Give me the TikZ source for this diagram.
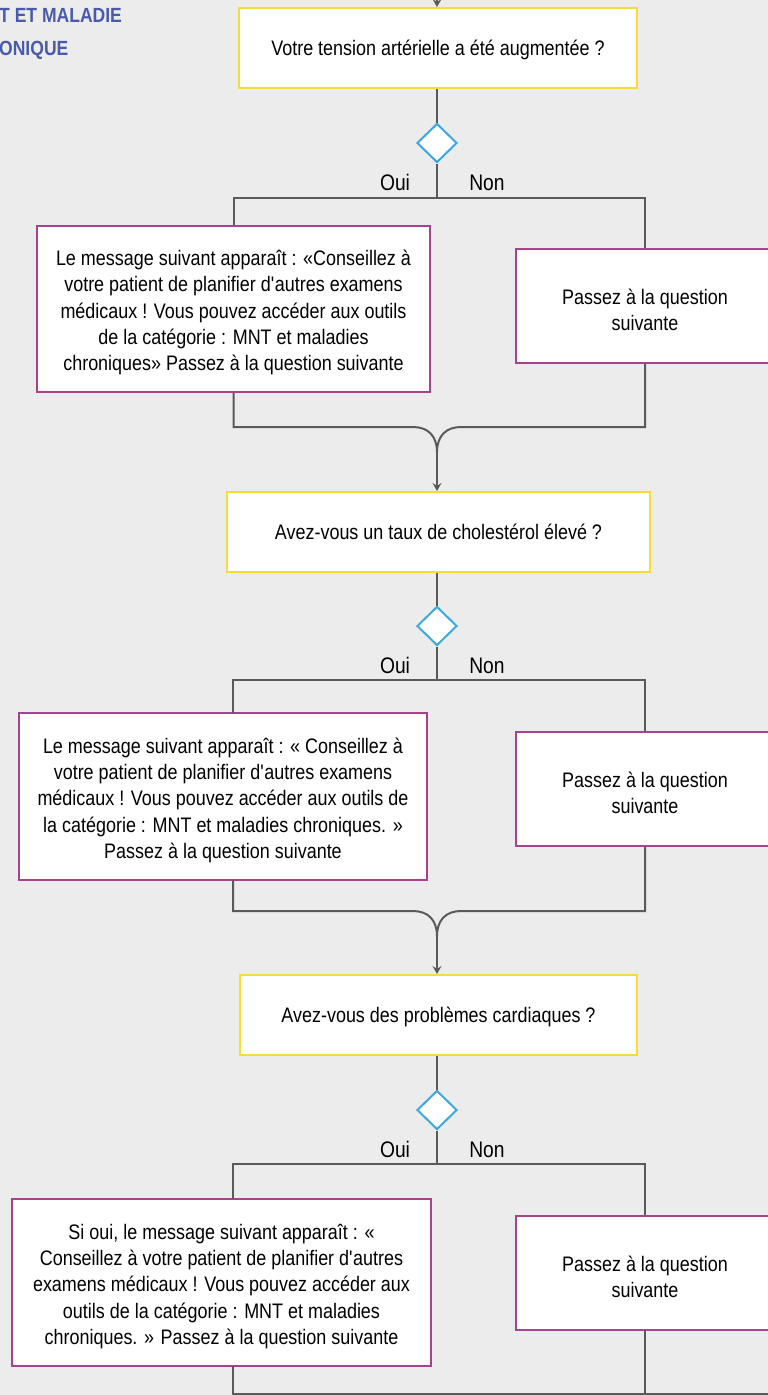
\documentclass[tikz,border=0pt]{standalone}
\usepackage{fontspec}
\setmainfont{Liberation Sans}[FakeStretch=0.855]
\usetikzlibrary{shapes.geometric,arrows.meta}
\definecolor{bgc}{HTML}{ECECEC}
\definecolor{qyellow}{HTML}{F7DC32}
\definecolor{apurple}{HTML}{A7428F}
\definecolor{dblue}{HTML}{3BA9E0}
\definecolor{lgray}{HTML}{5A5A5A}
\definecolor{hblue}{HTML}{4A5AAA}
% box text: centred lines, set slightly low in the box (box size kept)
\newcommand{\boxlines}[2][4pt]{\raisebox{-#1}[\height][\depth]{\begin{tabular}{@{}c@{}}#2\end{tabular}}}
\tikzset{
  txt/.style={font=\fontsize{21}{26.3}\selectfont, text=black, align=center},
  question/.style={txt, draw=qyellow, fill=white, line width=2pt, inner sep=0pt},
  answer/.style={txt, draw=apurple, fill=white, line width=2pt, inner sep=0pt},
  decision/.style={diamond, draw=dblue, fill=white, line width=2pt, inner sep=0pt,
    minimum width=40pt, minimum height=39pt},
  flow/.style={draw=lgray, line width=2pt},
  arr/.style={flow, -{Stealth[length=8pt,width=9pt,inset=3pt]}},
  branch/.style={font=\fontsize{22.5}{26}\selectfont, text=black, inner sep=0pt},
  header/.style={font=\fontsize{20.5}{24}\bfseries\selectfont, text=hblue, inner sep=0pt}
}
\begin{document}
\begin{tikzpicture}[x=1pt,y=-1pt]
\useasboundingbox (0,0) rectangle (768,1395);
\fill[bgc] (0,0) rectangle (768,1395);
\clip (0,0) rectangle (768,1395);

% section heading (left edge of the page)
\node[header, anchor=base west] (h1) at (-1,22) {T ET MALADIE};
\node[header, anchor=base west] (h2) at (-1,55) {ONIQUE};

% ---------- question 1 ----------
\coordinate (in1) at (437,-6);
\node[question, minimum width=398pt, minimum height=80pt] (q1) at (438,48)
  {\boxlines[2pt]{Votre tension artérielle a été augmentée ?}};
\node[decision] (d1) at (437,143) {};
\node[answer, minimum width=393pt, minimum height=166pt] (l1) at (233.5,309)
  {\boxlines{Le message suivant apparaît : «Conseillez à\\votre patient de planifier d\textquotesingle autres examens\\médicaux ! Vous pouvez accéder aux outils\\de la catégorie : MNT et maladies\\chroniques» Passez à la question suivante}};
\node[answer, minimum width=258pt, minimum height=114pt] (r1) at (645,306)
  {\boxlines[6pt]{Passez à la question\\suivante}};
\node[branch, anchor=base] (o1) at (395,190.5) {Oui};
\node[branch, anchor=base] (n1) at (487,190.5) {Non};

\draw[arr] (in1) -- (in1 |- q1.north);
\draw[flow] (d1.north |- q1.south) -- (d1.north);
\draw[flow] (d1.south) -- (437,198) coordinate (b1);
\draw[flow] (l1.north) |- (b1) -| (r1.north);
\coordinate (m1) at (437,452);
\draw[flow] (l1.south) |- (413,427) .. controls (428,427) and (437,436) .. (m1);
\draw[flow] (r1.south) |- (461,427) .. controls (446,427) and (437,436) .. (m1);

% ---------- question 2 ----------
\node[question, minimum width=423pt, minimum height=80pt] (q2) at (438.5,532)
  {\boxlines[2pt]{Avez-vous un taux de cholestérol élevé ?}};
\node[decision] (d2) at (437,626) {};
\node[answer, minimum width=408pt, minimum height=167pt] (l2) at (223,796.5)
  {\boxlines{Le message suivant apparaît : « Conseillez à\\votre patient de planifier d\textquotesingle autres examens\\médicaux ! Vous pouvez accéder aux outils de\\la catégorie : MNT et maladies chroniques. »\\Passez à la question suivante}};
\node[answer, minimum width=258pt, minimum height=114pt] (r2) at (645,789)
  {\boxlines[6pt]{Passez à la question\\suivante}};
\node[branch, anchor=base] (o2) at (395,673.5) {Oui};
\node[branch, anchor=base] (n2) at (487,673.5) {Non};

\draw[arr] (m1) -- (m1 |- q2.north);
\draw[flow] (d2.north |- q2.south) -- (d2.north);
\draw[flow] (d2.south) -- (437,680) coordinate (b2);
\draw[flow] (233,713) |- (b2) -| (r2.north);
\coordinate (m2) at (437,936);
\draw[flow] (233,880) |- (413,911) .. controls (428,911) and (437,920) .. (m2);
\draw[flow] (r2.south) |- (461,911) .. controls (446,911) and (437,920) .. (m2);

% ---------- question 3 ----------
\node[question, minimum width=397pt, minimum height=80pt] (q3) at (438.5,1015)
  {\boxlines[2pt]{Avez-vous des problèmes cardiaques ?}};
\node[decision] (d3) at (437,1110) {};
\node[answer, minimum width=419pt, minimum height=167pt] (l3) at (221.5,1282.5)
  {\boxlines{Si oui, le message suivant apparaît : «\\Conseillez à votre patient de planifier d\textquotesingle autres\\examens médicaux ! Vous pouvez accéder aux\\outils de la catégorie : MNT et maladies\\chroniques. » Passez à la question suivante}};
\node[answer, minimum width=258pt, minimum height=114pt] (r3) at (645,1273)
  {\boxlines[6pt]{Passez à la question\\suivante}};
\node[branch, anchor=base] (o3) at (395,1157.5) {Oui};
\node[branch, anchor=base] (n3) at (487,1157.5) {Non};

\draw[arr] (m2) -- (m2 |- q3.north);
\draw[flow] (d3.north |- q3.south) -- (d3.north);
\draw[flow] (d3.south) -- (437,1164) coordinate (b3);
\draw[flow] (233,1199) |- (b3) -| (r3.north);
\coordinate (e3) at (770,1393.5);
\draw[flow] (233,1366) |- (e3);
\draw[flow] (r3.south) -- (645,1393.5);
\end{tikzpicture}
\end{document}
